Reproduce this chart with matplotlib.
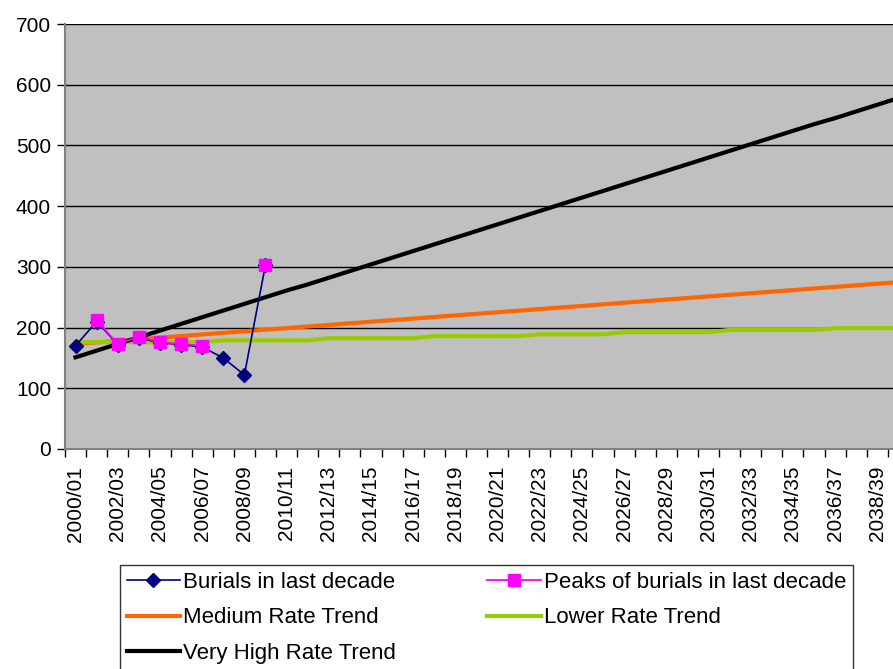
import numpy as np
import matplotlib
matplotlib.use("Agg")
import matplotlib.pyplot as plt

plt.rcParams['font.family'] = ['Liberation Sans', 'DejaVu Sans']

# financial years 2000/01 .. 2039/40
years = ["%d/%02d" % (y, (y + 1) % 100) for y in range(2000, 2040)]

burials = [170, 210, 172, 183, 175, 172, 168, 150, 122, 303]
peaks = [np.nan, 212, 173, 185, 176, 173, 170, np.nan, np.nan, 303]

medium_trend = [173.0, 175.6, 178.2, 180.8, 183.4, 186.1, 188.7, 191.3, 193.9, 196.5,
                199.1, 201.7, 204.3, 207.0, 209.6, 212.2, 214.8, 217.4, 220.0, 222.6,
                225.2, 227.8, 230.4, 233.0, 235.6, 238.3, 240.9, 243.5, 246.1, 248.7,
                251.3, 253.9, 256.5, 259.1, 261.7, 264.4, 267.0, 269.6, 272.2, 274.8]

lower_trend = [176, 176, 176, 176, 176, 176, 176, 179, 179, 179,
               179, 179, 182.5, 182.5, 182.5, 182.5, 182.5, 186, 186, 186,
               186, 186, 189, 189, 189, 189, 192.5, 192.5, 192.5, 192.5,
               192.5, 196, 196, 196, 196, 196, 199, 199, 199, 199]

very_high_trend = [151, 162, 173, 184, 195, 206, 217, 228, 239, 250,
                   261, 271, 282, 293, 304, 315, 326, 337, 348, 359,
                   370, 381, 392, 403, 414, 425, 436, 447, 458, 469,
                   480, 491, 502, 513, 524, 535, 545, 556, 567, 578]

W, H = 893, 669
fig = plt.figure(figsize=(W / 100, H / 100), dpi=100)
ax = fig.add_axes([65 / W, 1 - 449 / H, 844 / W, 425 / H])
ax.set_facecolor('#C0C0C0')

x = np.arange(len(years))

ax.plot(x, medium_trend, color='#FF6600', lw=3, label='Medium Rate Trend', zorder=3)
ax.plot(x, lower_trend, color='#99CC00', lw=3, label='Lower Rate Trend', zorder=3)
ax.plot(x, very_high_trend, color='black', lw=3, label='Very High Rate Trend', zorder=3)
ax.plot(x[:len(burials)], burials, color='#000080', lw=1.2, marker='D', markersize=7.5,
        label='Burials in last decade', zorder=4)
ax.plot(x[:len(peaks)], peaks, color='#FF00FF', lw=1.3, marker='s', markersize=8,
        label='Peaks of burials in last decade', zorder=5)

ax.set_xlim(-0.5, len(years) - 0.5)
ax.set_ylim(0, 700)
ax.set_yticks(range(0, 701, 100))
ax.yaxis.grid(True, color='black', lw=1)
ax.set_axisbelow(True)

# tick marks sit between categories, labels on every other category
ax.set_xticks(np.arange(len(years) + 1) - 0.5)
ax.set_xticklabels([])
ax.set_xticks(x[::2], minor=True)
ax.set_xticklabels(years[::2], minor=True, rotation=90, fontsize=15)
ax.tick_params(axis='x', which='major', length=6, width=1, color='black', direction='out')
ax.tick_params(axis='x', which='minor', length=0, pad=12)
ax.tick_params(axis='y', length=6, width=1, color='black', labelsize=15, pad=4)

for side in ['top', 'right']:
    ax.spines[side].set_visible(False)
for side in ['left', 'bottom']:
    ax.spines[side].set_color('#808080')
    ax.spines[side].set_linewidth(1.5)

h, l = ax.get_legend_handles_labels()
order = [3, 0, 2, 4, 1]
leg = fig.legend([h[i] for i in order], [l[i] for i in order], ncol=2,
                 loc='upper left', bbox_to_anchor=(120 / W, 1 - 565 / H),
                 frameon=True, fancybox=False, shadow=False, fontsize=16,
                 handlelength=2.4, handletextpad=0.15, columnspacing=4.1,
                 labelspacing=0.66, borderpad=0.3, borderaxespad=0)
leg.get_frame().set_edgecolor('black')
leg.get_frame().set_linewidth(1)

fig.savefig('out.png', dpi=100)
